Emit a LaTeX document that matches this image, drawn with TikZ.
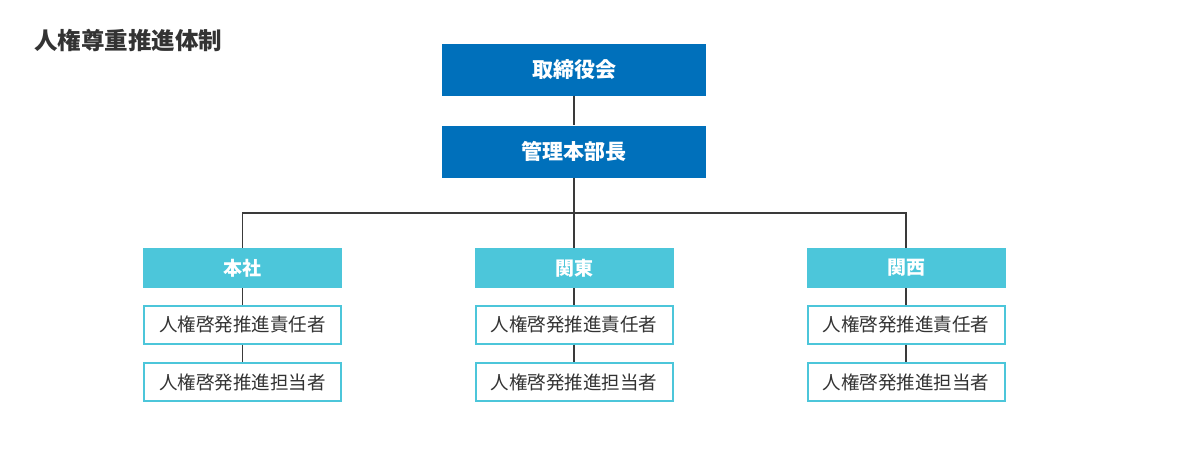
\documentclass[tikz,border=0pt]{standalone}
\usepackage{fontspec}
\setmainfont{Noto Sans CJK JP}
\usepackage{xcolor}
\usepackage{tikz}
\usetikzlibrary{calc}

\definecolor{topblue}{RGB}{0,112,187}
\definecolor{regcyan}{RGB}{76,198,218}
\definecolor{linegray}{RGB}{58,58,58}
\definecolor{txtgray}{RGB}{51,51,51}

\tikzset{
  topbox/.style={fill=topblue, text=white, font=\fontsize{21}{24}\selectfont\bfseries,
    minimum width=264pt, minimum height=52pt, inner sep=0pt},
  regbox/.style={fill=regcyan, text=white, font=\fontsize{19}{22}\selectfont\bfseries,
    minimum width=199pt, minimum height=40pt, inner sep=0pt},
  rolebox/.style={draw=regcyan, line width=2pt, fill=white, text=txtgray,
    font=\fontsize{18.5}{22}\selectfont, minimum width=197pt, minimum height=38pt, inner sep=0pt},
  link/.style={draw=linegray, line width=1.3pt}
}

\begin{document}
\begin{tikzpicture}[x=1pt,y=-1pt]
\useasboundingbox (0,0) rectangle (1200,451);

% Title
\node[anchor=west, text=txtgray, font=\fontsize{23.5}{27}\selectfont\bfseries, inner sep=0pt] (title) at (34,40) {人権尊重推進体制};

% Top boxes
\node[topbox] (board) at (574,69.5) {取締役会};
\node[topbox] (mgr) at (574,151.5) {管理本部長};

% Regions
\node[regbox] (honsha) at (242.5,268) {本社};
\node[regbox] (kanto) at (574,268) {関東};
\node[regbox] (kansai) at (906,268) {関西};

% Roles
\foreach \r/\x in {honsha/242.5, kanto/574, kansai/906} {
  \node[rolebox] (\r-lead) at (\x,324.5) {人権啓発推進責任者};
  \node[rolebox] (\r-staff) at (\x,382) {人権啓発推進担当者};
}

% Links
\coordinate (bus) at (574,213);
\draw[link] (board) -- (mgr);
\draw[link] (mgr) -- (kanto);
\draw[link] (honsha.north) |- (bus) -| (kansai.north);
\foreach \r in {honsha, kanto, kansai} {
  \draw[link] (\r) -- (\r-lead);
  \draw[link] (\r-lead) -- (\r-staff);
}
\end{tikzpicture}
\end{document}
